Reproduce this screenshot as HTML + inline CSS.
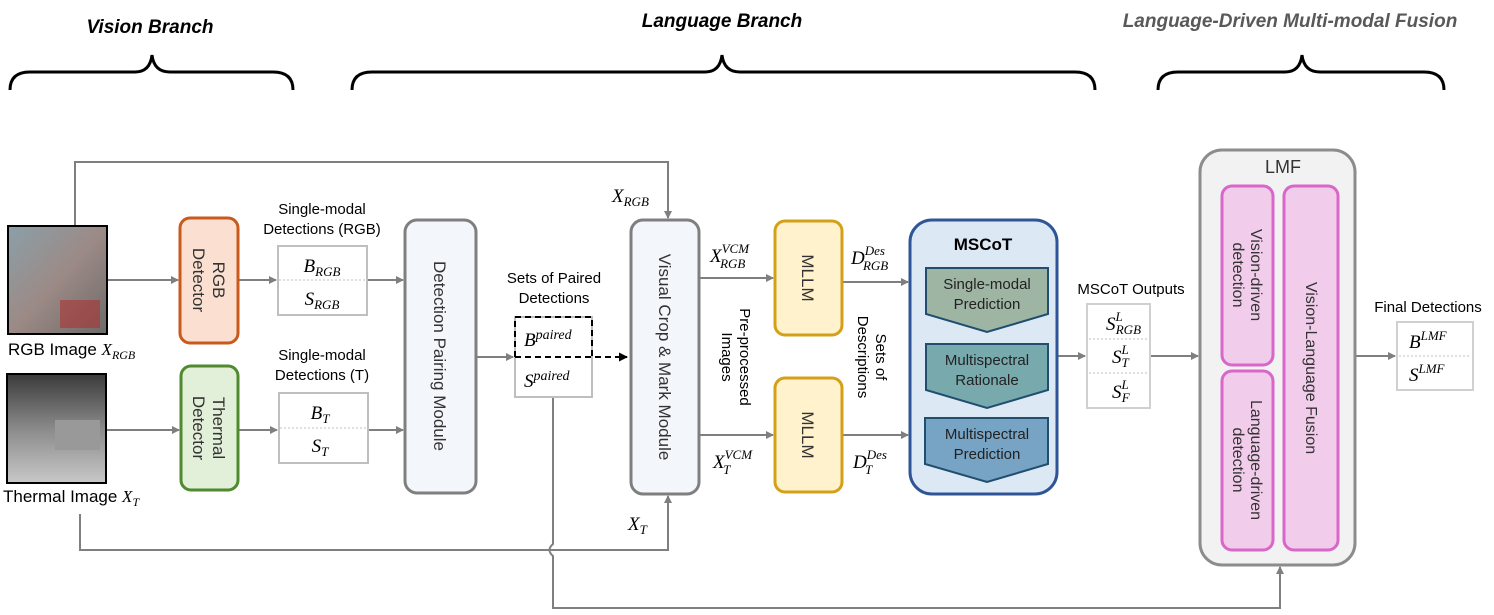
<!DOCTYPE html>
<html><head><meta charset="utf-8"><style>
body{margin:0;background:#fff}
svg{display:block;font-family:"Liberation Sans",Arial,sans-serif}
.m{font-family:"Liberation Serif",serif;font-style:italic}
</style></head><body>
<svg width="1494" height="615" viewBox="0 0 1494 615" xmlns="http://www.w3.org/2000/svg">
<defs>
<marker id="a" markerWidth="8" markerHeight="8" refX="7" refY="4" orient="auto" markerUnits="userSpaceOnUse"><path d="M0,0 L8,4 L0,8 z" fill="#7f7f7f"/></marker>
<marker id="k" markerWidth="9" markerHeight="9" refX="8" refY="4.5" orient="auto" markerUnits="userSpaceOnUse"><path d="M0,0 L9,4.5 L0,9 z" fill="#000"/></marker>
<linearGradient id="rgb" x1="0" y1="0" x2="1" y2="1"><stop offset="0" stop-color="#8aa0a8"/><stop offset=".5" stop-color="#9c8a86"/><stop offset="1" stop-color="#6d6a68"/></linearGradient>
<linearGradient id="th" x1="0" y1="0" x2="0" y2="1"><stop offset="0" stop-color="#3a3a3a"/><stop offset=".5" stop-color="#8a8a8a"/><stop offset="1" stop-color="#c8c8c8"/></linearGradient>
</defs>
<text x="150" y="33" font-size="19" font-weight="bold" font-style="italic" text-anchor="middle">Vision Branch</text>
<text x="722" y="27" font-size="19" font-weight="bold" font-style="italic" text-anchor="middle">Language Branch</text>
<text x="1290" y="27" font-size="19" font-weight="bold" font-style="italic" text-anchor="middle" fill="#595959">Language-Driven Multi-modal Fusion</text>
<g fill="none" stroke="#000" stroke-width="3">
<path d="M10,90 Q10,72 30,72 L135,72 Q150,72 152,55 Q154,72 170,72 L273,72 Q293,72 293,90"/>
<path d="M352,90 Q352,72 372,72 L705,72 Q720,72 722,55 Q724,72 740,72 L1075,72 Q1095,72 1095,90"/>
<path d="M1158,90 Q1158,72 1178,72 L1285,72 Q1300,72 1302,55 Q1304,72 1320,72 L1424,72 Q1444,72 1444,90"/>
</g>
<g fill="none" stroke="#7f7f7f" stroke-width="2">
<path d="M75,226 L75,162 L668,162 L668,218" marker-end="url(#a)"/>
<path d="M80,514 L80,550 L668,550 L668,496" marker-end="url(#a)"/>
<path d="M553,397 L553,544 Q546,550 553,556 L553,608 L1280,608 L1280,567" marker-end="url(#a)"/>
<path d="M107,280 L178,280" marker-end="url(#a)"/>
<path d="M238,280 L276,280" marker-end="url(#a)"/>
<path d="M367,280 L403,280" marker-end="url(#a)"/>
<path d="M106,430 L179,430" marker-end="url(#a)"/>
<path d="M238,430 L277,430" marker-end="url(#a)"/>
<path d="M368,430 L403,430" marker-end="url(#a)"/>
<path d="M476,357 L513,357" marker-end="url(#a)"/>
<path d="M699,278 L773,278" marker-end="url(#a)"/>
<path d="M699,435 L773,435" marker-end="url(#a)"/>
<path d="M842,282 L908,282" marker-end="url(#a)"/>
<path d="M842,435 L908,435" marker-end="url(#a)"/>
<path d="M1057,356 L1085,356" marker-end="url(#a)"/>
<path d="M1150,356 L1198,356" marker-end="url(#a)"/>
<path d="M1355,356 L1395,356" marker-end="url(#a)"/>
</g>
<rect x="8" y="226" width="99" height="108" fill="url(#rgb)" stroke="#000" stroke-width="2"/>
<rect x="60" y="300" width="40" height="28" fill="#a33" opacity=".6"/>
<rect x="7" y="374" width="99" height="109" fill="url(#th)" stroke="#000" stroke-width="2"/>
<rect x="55" y="420" width="45" height="30" fill="#999"/>
<text x="8" y="355" font-size="17">RGB Image <tspan class="m">X<tspan font-size="12" dy="4">RGB</tspan></tspan></text>
<text x="3" y="502" font-size="17">Thermal Image <tspan class="m">X<tspan font-size="12" dy="4">T</tspan></tspan></text>
<rect x="180" y="218" width="58" height="125" rx="10" fill="#fbe0d2" stroke="#c95a1c" stroke-width="3"/>
<text transform="translate(209,280) rotate(90)" font-size="17" text-anchor="middle" fill="#333"><tspan x="0" dy="-4">RGB</tspan><tspan x="0" dy="20">Detector</tspan></text>
<rect x="181" y="366" width="57" height="124" rx="10" fill="#e2efd9" stroke="#4f8a2e" stroke-width="3"/>
<text transform="translate(209,428) rotate(90)" font-size="17" text-anchor="middle" fill="#333"><tspan x="0" dy="-4">Thermal</tspan><tspan x="0" dy="20">Detector</tspan></text>
<text x="322" y="214" font-size="15" text-anchor="middle">Single-modal</text>
<text x="322" y="234" font-size="15" text-anchor="middle">Detections (RGB)</text>
<rect x="278" y="246" width="89" height="69" fill="#fff" stroke="#bfbfbf" stroke-width="2"/>
<line x1="279" y1="280" x2="366" y2="280" stroke="#bfbfbf" stroke-dasharray="2,2"/>
<text x="322" y="272" font-size="19" class="m" text-anchor="middle">B<tspan font-size="13" dy="4">RGB</tspan></text>
<text x="322" y="305" font-size="19" class="m" text-anchor="middle">S<tspan font-size="13" dy="4">RGB</tspan></text>
<text x="322" y="360" font-size="15" text-anchor="middle">Single-modal</text>
<text x="322" y="380" font-size="15" text-anchor="middle">Detections (T)</text>
<rect x="279" y="393" width="89" height="70" fill="#fff" stroke="#bfbfbf" stroke-width="2"/>
<line x1="280" y1="428" x2="367" y2="428" stroke="#bfbfbf" stroke-dasharray="2,2"/>
<text x="320" y="419" font-size="19" class="m" text-anchor="middle">B<tspan font-size="13" dy="4">T</tspan></text>
<text x="320" y="452" font-size="19" class="m" text-anchor="middle">S<tspan font-size="13" dy="4">T</tspan></text>
<rect x="405" y="220" width="71" height="273" rx="12" fill="#f3f6fb" stroke="#7f7f7f" stroke-width="3"/>
<text transform="translate(440,356) rotate(90)" font-size="17" text-anchor="middle" dy="6" fill="#333">Detection Pairing Module</text>
<text x="554" y="283" font-size="15" text-anchor="middle">Sets of Paired</text>
<text x="554" y="303" font-size="15" text-anchor="middle">Detections</text>
<rect x="515" y="317" width="77" height="80" fill="#fff" stroke="#bfbfbf" stroke-width="2"/>
<path d="M515,357 L515,317 L592,317 L592,357 L627,357" fill="none" stroke="#000" stroke-width="2" stroke-dasharray="6,4" marker-end="url(#k)"/>
<line x1="515" y1="357" x2="592" y2="357" stroke="#000" stroke-width="2" stroke-dasharray="6,4"/>
<text x="524" y="346" font-size="19" class="m">B<tspan font-size="14" dy="-7">paired</tspan></text>
<text x="524" y="387" font-size="19" class="m">S<tspan font-size="14" dy="-7">paired</tspan></text>
<text x="612" y="202" font-size="19" class="m">X<tspan font-size="13" dy="4">RGB</tspan></text>
<text x="628" y="530" font-size="19" class="m">X<tspan font-size="13" dy="4">T</tspan></text>
<rect x="631" y="220" width="68" height="274" rx="12" fill="#f3f6fb" stroke="#7f7f7f" stroke-width="3"/>
<text transform="translate(665,357) rotate(90)" font-size="17" text-anchor="middle" dy="6" fill="#333">Visual Crop &amp; Mark Module</text>
<text x="710" y="262" font-size="19" class="m">X<tspan font-size="13" dy="-9">VCM</tspan><tspan font-size="13" dx="-29" dy="15">RGB</tspan></text>
<text x="713" y="468" font-size="19" class="m">X<tspan font-size="13" dy="-9">VCM</tspan><tspan font-size="13" dx="-29" dy="15">T</tspan></text>
<text transform="translate(736,357) rotate(90)" font-size="15" text-anchor="middle"><tspan x="0" dy="-4">Pre-processed</tspan><tspan x="0" dy="18">Images</tspan></text>
<rect x="775" y="221" width="67" height="114" rx="10" fill="#fff2cc" stroke="#d4a017" stroke-width="3"/>
<text transform="translate(808,278) rotate(90)" font-size="17" text-anchor="middle" dy="6" fill="#333">MLLM</text>
<rect x="775" y="378" width="67" height="114" rx="10" fill="#fff2cc" stroke="#d4a017" stroke-width="3"/>
<text transform="translate(808,435) rotate(90)" font-size="17" text-anchor="middle" dy="6" fill="#333">MLLM</text>
<text x="851" y="264" font-size="19" class="m">D<tspan font-size="13" dy="-9">Des</tspan><tspan font-size="13" dx="-22" dy="15">RGB</tspan></text>
<text x="853" y="468" font-size="19" class="m">D<tspan font-size="13" dy="-9">Des</tspan><tspan font-size="13" dx="-22" dy="15">T</tspan></text>
<text transform="translate(872,357) rotate(90)" font-size="15" text-anchor="middle"><tspan x="0" dy="-4">Sets of</tspan><tspan x="0" dy="18">Descriptions</tspan></text>
<rect x="910" y="220" width="147" height="274" rx="22" fill="#dde8f5" stroke="#2f5597" stroke-width="3"/>
<text x="983" y="250" font-size="17" font-weight="bold" text-anchor="middle">MSCoT</text>
<path d="M926,268 L1048,268 L1048,314 L987,332 L926,314 z" fill="#9fb5a4" stroke="#1f4e6e" stroke-width="2"/>
<text x="987" y="289" font-size="15" text-anchor="middle" fill="#222">Single-modal</text>
<text x="987" y="309" font-size="15" text-anchor="middle" fill="#222">Prediction</text>
<path d="M926,344 L1048,344 L1048,390 L987,408 L926,390 z" fill="#78a9ad" stroke="#1f4e6e" stroke-width="2"/>
<text x="987" y="365" font-size="15" text-anchor="middle" fill="#222">Multispectral</text>
<text x="987" y="385" font-size="15" text-anchor="middle" fill="#222">Rationale</text>
<path d="M925,418 L1048,418 L1048,464 L987,482 L925,464 z" fill="#77a3c4" stroke="#1f4e6e" stroke-width="2"/>
<text x="987" y="439" font-size="15" text-anchor="middle" fill="#222">Multispectral</text>
<text x="987" y="459" font-size="15" text-anchor="middle" fill="#222">Prediction</text>
<text x="1131" y="294" font-size="15" text-anchor="middle">MSCoT Outputs</text>
<rect x="1087" y="304" width="63" height="104" fill="#fff" stroke="#d0d0d0" stroke-width="2"/>
<line x1="1089" y1="339" x2="1148" y2="339" stroke="#bfbfbf" stroke-dasharray="2,2"/>
<line x1="1089" y1="373" x2="1148" y2="373" stroke="#bfbfbf" stroke-dasharray="2,2"/>
<text x="1106" y="330" font-size="19" class="m">S<tspan font-size="13" dy="-9">L</tspan><tspan font-size="13" dx="-7" dy="13">RGB</tspan></text>
<text x="1112" y="363" font-size="19" class="m">S<tspan font-size="13" dy="-9">L</tspan><tspan font-size="13" dx="-7" dy="13">T</tspan></text>
<text x="1112" y="398" font-size="19" class="m">S<tspan font-size="13" dy="-9">L</tspan><tspan font-size="13" dx="-7" dy="13">F</tspan></text>
<rect x="1200" y="150" width="155" height="415" rx="22" fill="#f2f2f2" stroke="#8c8c8c" stroke-width="3"/>
<text x="1283" y="173" font-size="18" text-anchor="middle" fill="#333">LMF</text>
<rect x="1222" y="186" width="51" height="179" rx="10" fill="#f1cdeb" stroke="#d966c9" stroke-width="3"/>
<text transform="translate(1247,275) rotate(90)" font-size="16" text-anchor="middle" fill="#333"><tspan x="0" dy="-4">Vision-driven</tspan><tspan x="0" dy="18">detection</tspan></text>
<rect x="1222" y="371" width="51" height="179" rx="10" fill="#f1cdeb" stroke="#d966c9" stroke-width="3"/>
<text transform="translate(1247,460) rotate(90)" font-size="16" text-anchor="middle" fill="#333"><tspan x="0" dy="-4">Language-driven</tspan><tspan x="0" dy="18">detection</tspan></text>
<rect x="1284" y="186" width="54" height="364" rx="10" fill="#f1cdeb" stroke="#d966c9" stroke-width="3"/>
<text transform="translate(1311,368) rotate(90)" font-size="16" text-anchor="middle" dy="5" fill="#333">Vision-Language Fusion</text>
<text x="1428" y="312" font-size="15" text-anchor="middle">Final Detections</text>
<rect x="1397" y="322" width="76" height="68" fill="#fff" stroke="#d0d0d0" stroke-width="2"/>
<line x1="1399" y1="356" x2="1471" y2="356" stroke="#bfbfbf" stroke-dasharray="2,2"/>
<text x="1409" y="348" font-size="19" class="m">B<tspan font-size="13" dy="-8">LMF</tspan></text>
<text x="1409" y="381" font-size="19" class="m">S<tspan font-size="13" dy="-8">LMF</tspan></text>
</svg>
</body></html>
